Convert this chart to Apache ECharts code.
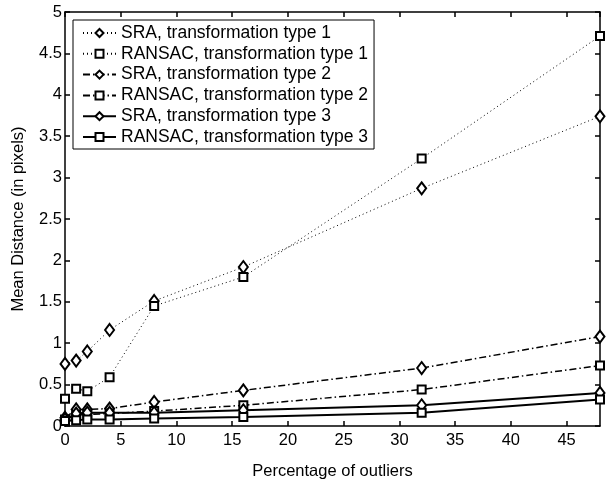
<!DOCTYPE html>
<html>
<head>
<meta charset="utf-8">
<script src="https://cdn.jsdelivr.net/npm/echarts@6/dist/echarts.min.js"></script>
<style>
  html, body { margin: 0; padding: 0; background: #fff; }
  #chart { width: 612px; height: 485px; }
</style>
</head>
<body>
<div id="chart"></div>
<script>
// percentage of outliers
const outliers = [0, 1, 2, 4, 8, 16, 32, 48];

const sraType1 = [0.75, 0.79, 0.90, 1.16, 1.51, 1.92, 2.87, 3.74];
const ransacType1 = [0.33, 0.45, 0.42, 0.59, 1.45, 1.80, 3.23, 4.71];
const sraType2 = [0.10, 0.20, 0.20, 0.21, 0.29, 0.43, 0.70, 1.08];
const ransacType2 = [0.08, 0.13, 0.14, 0.15, 0.18, 0.25, 0.44, 0.73];
const sraType3 = [0.08, 0.15, 0.16, 0.16, 0.16, 0.19, 0.25, 0.40];
const ransacType3 = [0.06, 0.07, 0.08, 0.08, 0.09, 0.11, 0.16, 0.32];

const seriesNames = [
    'SRA, transformation type 1',
    'RANSAC, transformation type 1',
    'SRA, transformation type 2',
    'RANSAC, transformation type 2',
    'SRA, transformation type 3',
    'RANSAC, transformation type 3'
];
const seriesValues = [sraType1, ransacType1, sraType2, ransacType2, sraType3, ransacType3];

const font = 'Liberation Sans, Arial, Helvetica, sans-serif';
const dotted = [1, 3];
const dashDot = [7, 3, 1.5, 3];

function makeSeries(name, values, index) {
    const isSra = index % 2 === 0;
    const kind = Math.floor(index / 2);
    const dash = kind === 0 ? dotted : (kind === 1 ? dashDot : 'solid');
    const width = kind === 0 ? 1 : (kind === 1 ? 1.5 : 2);
    return {
        name: name,
        type: 'line',
        data: values.map((v, i) => [outliers[i], v]),
        symbol: isSra ? 'diamond' : 'rect',
        symbolSize: isSra ? [9, 12] : [8, 8],
        showSymbol: true,
        animation: false,
        lineStyle: { color: '#000', width: width, type: dash },
        itemStyle: { color: '#fff', borderColor: '#000', borderWidth: 2 },
        emphasis: { disabled: true },
        z: 2
    };
}

const chart = echarts.init(document.getElementById('chart'));

const axisLine = { show: true, onZero: false, lineStyle: { color: '#000', width: 1.5 } };
const axisTick = { show: true, inside: true, length: 5, lineStyle: { color: '#000', width: 1.5 } };

chart.setOption({
    backgroundColor: '#fff',
    animation: false,
    grid: { left: 65, right: 12, top: 12, bottom: 52, containLabel: false },
    legend: {
        orient: 'vertical',
        left: 73,
        top: 20,
        padding: [4, 6, 3, 9],
        itemGap: 2.8,
        itemWidth: 33,
        itemHeight: 10,
        backgroundColor: '#fff',
        borderColor: '#000',
        borderWidth: 1,
        textStyle: { fontFamily: font, fontSize: 17.5, color: '#000' },
        data: seriesNames,
        z: 10
    },
    xAxis: [{
        type: 'value',
        min: 0,
        max: 48,
        interval: 5,
        name: 'Percentage of outliers',
        nameLocation: 'middle',
        nameGap: 37,
        nameTextStyle: { fontFamily: font, fontSize: 16.5, color: '#000' },
        axisLine: axisLine,
        axisTick: axisTick,
        axisLabel: { fontFamily: font, fontSize: 16.5, color: '#000', margin: 6, showMaxLabel: false },
        splitLine: { show: false }
    }, {
        type: 'value',
        position: 'top',
        min: 0,
        max: 48,
        interval: 5,
        axisLine: axisLine,
        axisTick: axisTick,
        axisLabel: { show: false },
        splitLine: { show: false }
    }],
    yAxis: [{
        type: 'value',
        min: 0,
        max: 5,
        interval: 0.5,
        name: 'Mean Distance (in pixels)',
        nameLocation: 'middle',
        nameGap: 38,
        nameTextStyle: { fontFamily: font, fontSize: 16.5, color: '#000' },
        axisLine: axisLine,
        axisTick: axisTick,
        axisLabel: { fontFamily: font, fontSize: 16.5, color: '#000', margin: 3 },
        splitLine: { show: false }
    }, {
        type: 'value',
        position: 'right',
        min: 0,
        max: 5,
        interval: 0.5,
        axisLine: axisLine,
        axisTick: axisTick,
        axisLabel: { show: false },
        splitLine: { show: false }
    }],
    series: seriesNames.map((name, i) => makeSeries(name, seriesValues[i], i))
});
</script>
</body>
</html>
